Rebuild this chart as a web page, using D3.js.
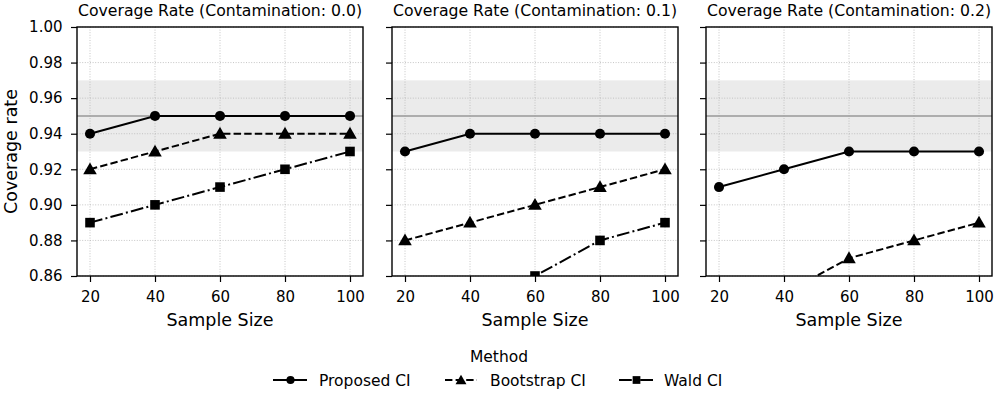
<!DOCTYPE html>
<html><head><meta charset="utf-8">
<script src="https://cdn.jsdelivr.net/npm/d3@7"></script>
<style>body{margin:0;background:#fff;} text{font-family:"DejaVu Sans",sans-serif;fill:#000;}</style>
</head><body>
<svg id="c" width="997" height="398"></svg>
<script>
const sampleSizes = [20, 40, 60, 80, 100];
const panelTitles = ["Coverage Rate (Contamination: 0.0)", "Coverage Rate (Contamination: 0.1)", "Coverage Rate (Contamination: 0.2)"];
const methods = ["Proposed CI", "Bootstrap CI", "Wald CI"];
const proposed = [[0.94,0.95,0.95,0.95,0.95],[0.93,0.94,0.94,0.94,0.94],[0.91,0.92,0.93,0.93,0.93]];
const bootstrap = [[0.92,0.93,0.94,0.94,0.94],[0.88,0.89,0.90,0.91,0.92],[0.84,0.85,0.87,0.88,0.89]];
const wald = [[0.89,0.90,0.91,0.92,0.93],[0.83,0.85,0.86,0.88,0.89],[0.80,0.82,0.83,0.84,0.85]];
const yTicks = [0.86,0.88,0.90,0.92,0.94,0.96,0.98,1.00];
const xTicks = [20,40,60,80,100];
const bandRange = [0.93, 0.97];
const nominal = 0.95;

const svg = d3.select("#c");
const panelsX = [77, 392, 706];
const pw = 286, plotTop = 27, plotBottom = 276;
const y = d3.scaleLinear().domain([0.86, 1.00]).range([plotBottom, plotTop]);
const series = [proposed, bootstrap, wald];
const dashes = [null, "7.4,3.2", "12.8,3.2,2,3.2"];
const shapes = [d3.symbolCircle, d3.symbolTriangle, d3.symbolSquare];
const sizes = [80, 80, 92];

panelsX.forEach((px, pi) => {
  const x = d3.scaleLinear().domain([16, 104]).range([px, px + pw]);
  const g = svg.append("g");
  const cid = "clip" + pi;
  svg.append("clipPath").attr("id", cid).append("rect")
    .attr("x", px).attr("y", plotTop).attr("width", pw).attr("height", plotBottom - plotTop);
  g.append("rect").attr("x", px).attr("width", pw)
    .attr("y", y(bandRange[1])).attr("height", y(bandRange[0]) - y(bandRange[1]))
    .attr("fill", "#ebebeb");
  g.append("g").selectAll("line").data(yTicks).join("line")
    .attr("x1", px).attr("x2", px + pw).attr("y1", d => y(d)).attr("y2", d => y(d))
    .attr("stroke", "#b8b8b8").attr("stroke-width", 0.8).attr("stroke-dasharray", "1,1.6");
  g.append("g").selectAll("line").data(xTicks).join("line")
    .attr("x1", d => x(d)).attr("x2", d => x(d)).attr("y1", plotTop).attr("y2", plotBottom)
    .attr("stroke", "#b8b8b8").attr("stroke-width", 0.8).attr("stroke-dasharray", "1,1.6");
  g.append("line").attr("x1", px).attr("x2", px + pw).attr("y1", y(nominal)).attr("y2", y(nominal))
    .attr("stroke", "#999").attr("stroke-width", 1.6);
  const cg = g.append("g").attr("clip-path", `url(#${cid})`);
  series.forEach((s, si) => {
    const vals = s[pi].map((v, i) => [sampleSizes[i], v]);
    cg.append("path").datum(vals)
      .attr("d", d3.line().x(d => x(d[0])).y(d => y(d[1])))
      .attr("fill", "none").attr("stroke", "#000").attr("stroke-width", 2)
      .attr("stroke-dasharray", dashes[si]);
    cg.selectAll(null).data(vals.filter(d => d[1] >= 0.86 - 1e-9)).join("path")
      .attr("transform", d => `translate(${x(d[0])},${y(d[1]) + (si === 1 ? 1 : 0)})`)
      .attr("d", d3.symbol().type(shapes[si]).size(sizes[si]))
      .attr("fill", "#000");
  });
  const xa = g.append("g").attr("transform", `translate(0,${plotBottom})`)
    .call(d3.axisBottom(x).tickValues(xTicks).tickSize(6).tickPadding(9.5).tickFormat(d3.format("d")));
  const ya = g.append("g").attr("transform", `translate(${px},0)`)
    .call(d3.axisLeft(y).tickValues(yTicks).tickSize(6).tickPadding(8.5).tickFormat(pi === 0 ? d3.format(".2f") : () => ""));
  [xa, ya].forEach(a => {
    a.select(".domain").remove();
    a.selectAll("line").attr("stroke", "#000").attr("stroke-width", 1.2);
    a.selectAll("text").attr("font-size", 15).attr("font-family", "DejaVu Sans").attr("fill", "#000");
  });
  g.append("rect").attr("x", px).attr("y", plotTop).attr("width", pw).attr("height", plotBottom - plotTop)
    .attr("fill", "none").attr("stroke", "#000").attr("stroke-width", 1.4);
  g.append("text").attr("x", px + pw / 2).attr("y", 16).attr("text-anchor", "middle")
    .attr("font-size", 15.7).text(panelTitles[pi]);
  g.append("text").attr("x", px + pw / 2).attr("y", 326).attr("text-anchor", "middle")
    .attr("font-size", 17.5).text("Sample Size");
});

svg.append("text").attr("transform", `translate(16.5,${(plotTop + plotBottom) / 2}) rotate(-90)`)
  .attr("text-anchor", "middle").attr("font-size", 17.5).text("Coverage rate");

svg.append("text").attr("x", 499).attr("y", 362).attr("text-anchor", "middle").attr("font-size", 15.5).text("Method");
const legX = [273, 445, 619];
const legTextX = [319, 490, 664];
methods.forEach((m, i) => {
  const lg = svg.append("g").attr("transform", `translate(${legX[i]},380)`);
  lg.append("line").attr("x1", 0).attr("x2", i === 1 ? 32 : 34).attr("y1", 0).attr("y2", 0)
    .attr("stroke", "#000").attr("stroke-width", 2).attr("stroke-dasharray", dashes[i]);
  lg.append("path").attr("transform", `translate(${i === 1 ? 16 : 17.5},${i === 1 ? 1 : 0})`)
    .attr("d", d3.symbol().type(shapes[i]).size(sizes[i] * 0.65)).attr("fill", "#000");
  svg.append("text").attr("x", legTextX[i]).attr("y", 385.5).attr("font-size", 15.5).text(m);
});
</script>
</body></html>
